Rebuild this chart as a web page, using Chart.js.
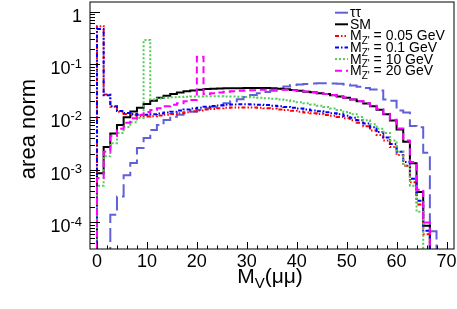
<!DOCTYPE html>
<html lang="en">
<head>
<meta charset="UTF-8">
<title>M_V(mumu) area norm</title>
<script src="https://cdn.jsdelivr.net/npm/chart.js"></script>
<style>
  body { margin: 0; background: #fff; }
  canvas { display: block; }
</style>
</head>
<body>
<canvas id="chart" width="457" height="309"></canvas>
<script>
// histogram binning: 54 bins of 4/3 GeV starting at 0
const binWidth = 4 / 3;

// bin contents (0 = empty bin)
const tauTau = [0, 0, 1.4e-4, 3.1e-4, 7.9e-4, 1.34e-3, 2.6e-3, 4.0e-3, 5.7e-3, 7.1e-3,
  8.8e-3, 0.0102, 0.0111, 0.0119, 0.0127, 0.0136, 0.0147, 0.0158, 0.0170, 0.0183,
  0.0200, 0.0218, 0.0240, 0.0263, 0.0283, 0.0300, 0.0318, 0.0345, 0.0380, 0.0405,
  0.0418, 0.0427, 0.0433, 0.0437, 0.0438, 0.0436, 0.0430, 0.0418, 0.0400, 0.0378,
  0.0355, 0.0335, 0.0320, 0.0215, 0.0205, 0.0133, 0.0122, 0.0068, 0.0064, 0.0021,
  6.8e-5, 0, 0, 0];
const smBkg = [8.6e-4, 2.7e-3, 4.9e-3, 7.1e-3, 9.9e-3, 0.0128, 0.0150, 0.0178, 0.0205, 0.0232,
  0.0255, 0.0275, 0.0293, 0.0308, 0.0320, 0.0331, 0.0340, 0.0345, 0.0349, 0.0352,
  0.0353, 0.0354, 0.0355, 0.0356, 0.0356, 0.0355, 0.0352, 0.0347, 0.0338, 0.0327,
  0.0315, 0.0303, 0.0295, 0.0285, 0.0274, 0.0261, 0.0247, 0.0232, 0.0216, 0.0199,
  0.0181, 0.0161, 0.0138, 0.0113, 0.0086, 0.0058, 0.0034, 0.00133, 0.00038, 8.7e-5,
  0, 0, 0, 0];
const zp005 = [0.53, 0.027, 0.0158, 0.0126, 0.0115, 0.0108, 0.0104, 0.0103, 0.0104, 0.0107,
  0.0111, 0.0115, 0.0119, 0.0124, 0.0129, 0.0134, 0.0139, 0.0143, 0.0147, 0.0150,
  0.0152, 0.0153, 0.0153, 0.0152, 0.0150, 0.0147, 0.0144, 0.0140, 0.0136, 0.0132,
  0.0127, 0.0123, 0.0118, 0.0114, 0.0110, 0.0106, 0.0101, 0.0095, 0.0087, 0.0078,
  0.0067, 0.0056, 0.0046, 0.0036, 0.0027, 0.0019, 0.0012, 0.00058, 0.00022, 6e-5,
  0, 0, 0, 0];
const zp01 = [0.47, 0.026, 0.0160, 0.0130, 0.0120, 0.0114, 0.0111, 0.0111, 0.0113, 0.0117,
  0.0122, 0.0127, 0.0133, 0.0139, 0.0145, 0.0151, 0.0157, 0.0162, 0.0167, 0.0171,
  0.0174, 0.0175, 0.0175, 0.0174, 0.0172, 0.0169, 0.0165, 0.0161, 0.0156, 0.0151,
  0.0145, 0.0139, 0.0134, 0.0129, 0.0124, 0.0119, 0.0113, 0.0106, 0.0097, 0.0087,
  0.0076, 0.0064, 0.0052, 0.0041, 0.0031, 0.0022, 0.0014, 0.00068, 0.00026, 7e-5,
  0, 0, 0, 0];
const zp10 = [5e-4, 1.8e-3, 3.2e-3, 5.0e-3, 6.5e-3, 8.0e-3, 9.6e-3, 0.29, 0.0215, 0.0225,
  0.0232, 0.0237, 0.0241, 0.0244, 0.0246, 0.0247, 0.0248, 0.0248, 0.0248, 0.0247,
  0.0246, 0.0244, 0.0241, 0.0238, 0.0234, 0.0229, 0.0223, 0.0216, 0.0208, 0.0200,
  0.0192, 0.0183, 0.0174, 0.0165, 0.0156, 0.0146, 0.0136, 0.0125, 0.0113, 0.0100,
  0.0087, 0.0073, 0.0060, 0.0050, 0.0036, 0.0022, 0.0012, 0.0005, 0.00016, 0,
  0, 0, 0, 0];
const zp20 = [7e-4, 2.2e-3, 4.4e-3, 6.0e-3, 7.8e-3, 9.5e-3, 0.0110, 0.0125, 0.0136, 0.0148,
  0.0160, 0.0172, 0.0184, 0.0200, 0.0212, 0.14, 0.0275, 0.0285, 0.0294, 0.0302,
  0.0309, 0.0315, 0.0320, 0.0325, 0.0329, 0.0331, 0.0332, 0.0332, 0.0330, 0.0325,
  0.0316, 0.0306, 0.0296, 0.0285, 0.0274, 0.0262, 0.0249, 0.0235, 0.0219, 0.0202,
  0.0184, 0.0164, 0.0141, 0.0116, 0.0089, 0.0061, 0.0036, 0.0014, 0.00042, 1.0e-4,
  0, 0, 0, 0];

const seriesLabels = ['\u03c4\u03c4', 'SM', "M_{Z'} = 0.05 GeV", "M_{Z'} = 0.1 GeV", "M_{Z'} = 10 GeV", "M_{Z'} = 20 GeV"];
const seriesValues = [tauTau, smBkg, zp005, zp01, zp10, zp20];

const xTickValues = [0, 10, 20, 30, 40, 50, 60, 70];
const xTickLabels = ['0', '10', '20', '30', '40', '50', '60', '70'];
const yTickValues = [1, 1e-1, 1e-2, 1e-3, 1e-4];
const yTickLabels = ['1', '10^{-1}', '10^{-2}', '10^{-3}', '10^{-4}'];
const xTitle = 'M_{V}(\u03bc\u03bc)';
const yTitle = 'area norm';

// styles
const seriesStyles = [
    { color: '#6060d8', dash: [14, 5], order: 6 },
    { color: '#000000', dash: [], order: 5 },
    { color: '#ff0000', dash: [4, 2, 1.5, 2, 1.5, 2], order: 4 },
    { color: '#0000ff', dash: [4, 2, 1.5, 2], order: 3 },
    { color: '#55cc55', dash: [2, 2], order: 2 },
    { color: '#ff00ff', dash: [7, 4], order: 1 }
];
const FONT = '"Liberation Sans", Arial, Helvetica, sans-serif';
const FLOOR = 1e-7; // empty bins drawn below the frame

function histPoints(vals) {
    const pts = [{ x: 0, y: FLOOR }];
    vals.forEach((v, i) => pts.push({ x: i * binWidth, y: v > 0 ? v : FLOOR }));
    const last = vals[vals.length - 1];
    pts.push({ x: vals.length * binWidth, y: last > 0 ? last : FLOOR });
    pts.push({ x: vals.length * binWidth, y: FLOOR });
    return pts;
}

// text with _{sub} and ^{sup} parts
function richText(ctx, text, x, y, size, align) {
    const segs = [];
    const re = /([_^])\{([^}]*)\}/g;
    let last = 0, m;
    while ((m = re.exec(text))) {
        if (m.index > last) segs.push({ t: text.slice(last, m.index), k: '' });
        segs.push({ t: m[2], k: m[1] });
        last = re.lastIndex;
    }
    if (last < text.length) segs.push({ t: text.slice(last), k: '' });
    const fontFor = s => (s.k ? Math.round(size * 0.72) : size) + 'px ' + FONT;
    let w = 0;
    segs.forEach(s => { ctx.font = fontFor(s); s.w = ctx.measureText(s.t).width; w += s.w; });
    let cx = align === 'right' ? x - w : align === 'center' ? x - w / 2 : x;
    ctx.textAlign = 'left';
    ctx.textBaseline = 'alphabetic';
    segs.forEach(s => {
        ctx.font = fontFor(s);
        const dy = s.k === '_' ? size * 0.25 : s.k === '^' ? -size * 0.38 : 0;
        ctx.fillText(s.t, cx, y + dy);
        cx += s.w;
    });
}

const rootFrame = {
    id: 'rootFrame',
    afterDatasetsDraw(chart) {
        const { ctx, chartArea: a, scales: { x, y } } = chart;
        ctx.save();
        ctx.strokeStyle = '#000';
        ctx.fillStyle = '#000';
        ctx.lineWidth = 1;
        ctx.strokeRect(a.left, a.top, a.right - a.left, a.bottom - a.top);

        // x ticks (inside, from bottom)
        ctx.beginPath();
        for (let v = 0; v <= 70; v += 2) {
            const px = Math.round(x.getPixelForValue(v)) + 0.5;
            const len = v % 10 === 0 ? 7 : 3.5;
            ctx.moveTo(px, a.bottom);
            ctx.lineTo(px, a.bottom - len);
        }
        // y ticks (inside, from left)
        for (let e = -5; e <= 0; e++) {
            for (let m = 1; m <= 9; m++) {
                const v = m * Math.pow(10, e);
                if (v < y.min || v > y.max) continue;
                const py = Math.round(y.getPixelForValue(v)) + 0.5;
                const len = m === 1 ? 10 : 5;
                ctx.moveTo(a.left, py);
                ctx.lineTo(a.left + len, py);
            }
        }
        ctx.stroke();

        // tick labels
        xTickValues.forEach((v, i) => {
            richText(ctx, xTickLabels[i], x.getPixelForValue(v), 267, 18, 'center');
        });
        yTickValues.forEach((v, i) => {
            richText(ctx, yTickLabels[i], 82, y.getPixelForValue(v) + 10, 18, 'right');
        });

        // axis titles
        richText(ctx, xTitle, 270, 283, 21, 'center');
        ctx.save();
        ctx.translate(35, 129);
        ctx.rotate(-Math.PI / 2);
        richText(ctx, yTitle, 0, 0, 22, 'center');
        ctx.restore();

        // legend
        seriesLabels.forEach((label, i) => {
            const ry = 12.7 + i * 11.6;
            const st = seriesStyles[i];
            ctx.save();
            ctx.strokeStyle = st.color;
            ctx.lineWidth = 2;
            ctx.setLineDash(st.dash);
            ctx.beginPath();
            ctx.moveTo(335, ry);
            ctx.lineTo(348, ry);
            ctx.stroke();
            ctx.restore();
            richText(ctx, label, 350, ry + 4.5, 14, 'left');
        });
        ctx.restore();
    }
};

const datasets = seriesValues.map((vals, i) => ({
    label: seriesLabels[i],
    data: histPoints(vals),
    borderColor: seriesStyles[i].color,
    borderDash: seriesStyles[i].dash,
    borderWidth: 2,
    stepped: true,
    fill: false,
    pointRadius: 0,
    order: seriesStyles[i].order
}));

new Chart(document.getElementById('chart').getContext('2d'), {
    type: 'line',
    data: { datasets },
    options: {
        responsive: false,
        animation: false,
        events: [],
        layout: { padding: { left: 90, right: 3, top: 2, bottom: 60 } },
        scales: {
            x: { type: 'linear', min: -1.4, max: 71.5, display: false },
            y: { type: 'logarithmic', min: 3.14e-5, max: 1.53, display: false }
        },
        plugins: { legend: { display: false }, tooltip: { enabled: false } }
    },
    plugins: [rootFrame]
});
</script>
</body>
</html>
